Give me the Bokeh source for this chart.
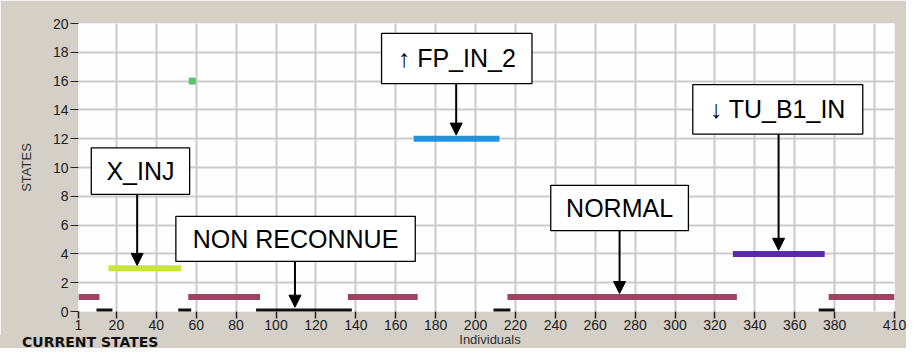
from bokeh.plotting import figure
from bokeh.layouts import column
from bokeh.models import (Range1d, FixedTicker, ColumnDataSource, Arrow, NormalHead, Div)
from bokeh.core.properties import value
from bokeh.embed import file_html
from bokeh.resources import INLINE

# ---- data ----
seg_state = [1, 0, 3, 0, 1, 0, 1, 12, 0, 1, 4, 0, 1]
seg_start = [1, 10, 16, 51, 56, 90, 136, 169, 209, 216, 329, 372, 377]
seg_end = [11.5, 18, 52.5, 57.5, 92, 138, 171, 212, 217.5, 331, 375, 380, 410]
seg_kind = ["normal", "unknown", "x_inj", "unknown", "normal", "unknown", "normal",
            "fp_in_2", "unknown", "normal", "tu_b1_in", "unknown", "normal"]

point_x = [58]
point_y = [16]

ann_text = ["X_INJ", "NON RECONNUE", "\u2191 FP_IN_2", "NORMAL", "\u2193 TU_B1_IN"]
ann_left = [7.4, 49.8, 152.9, 237.7, 308.9]
ann_right = [56.7, 169.8, 228.3, 306.7, 394.1]
ann_bottom = [8.14, 3.48, 15.83, 5.62, 12.32]
ann_top = [11.36, 6.61, 19.31, 8.76, 15.76]
arrow_x = [30.4, 109.5, 190.3, 272.2, 351.9]
arrow_tip = [3.2, 0.3, 12.25, 1.25, 4.25]

x_ticks = [1, 20, 40, 60, 80, 100, 120, 140, 160, 180, 200, 220, 240, 260, 280,
           300, 320, 340, 360, 380, 410]
x_grid = [20, 40, 60, 80, 100, 120, 140, 160, 180, 200, 220, 240, 260, 280, 300,
          320, 340, 360, 380, 400]
y_ticks = [0, 2, 4, 6, 8, 10, 12, 14, 16, 18, 20]

x_title = "Individuals"
y_title = "STATES"
panel_title = "CURRENT STATES"

colors = {"normal": "#9C4463", "unknown": "#101010", "x_inj": "#C8E63A",
          "fp_in_2": "#2593D9", "tu_b1_in": "#5B2AA8"}

PANEL = "#D4D0C8"
W = 906

p = figure(width=W, height=335, output_backend="svg", toolbar_location=None,
           x_range=Range1d(1, 410), y_range=Range1d(0, 20),
           min_border_left=78, min_border_right=12, min_border_top=23, min_border_bottom=24,
           background_fill_color="#FEFEFE", border_fill_color=PANEL)
p.outline_line_color = None

# grids
p.xgrid.ticker = FixedTicker(ticks=x_grid)
p.ygrid.ticker = FixedTicker(ticks=y_ticks[1:-1])
for g in (p.xgrid, p.ygrid):
    g.grid_line_color = "#CBCBCB"
    g.grid_line_width = 2

# axes
p.xaxis.ticker = FixedTicker(ticks=x_ticks)
p.yaxis.ticker = FixedTicker(ticks=y_ticks)
for ax in (p.xaxis, p.yaxis):
    ax.axis_line_color = None
    ax.major_tick_line_color = "#222222"
    ax.major_tick_in = 0
    ax.minor_tick_line_color = None
    ax.major_label_text_font = "Liberation Sans"
    ax.major_label_text_font_size = "14px"
    ax.major_label_text_color = "#202020"
    ax.axis_label_text_font = "Liberation Sans"
    ax.axis_label_text_font_size = "13px"
    ax.axis_label_text_font_style = "normal"
    ax.axis_label_text_color = "#303030"
p.xaxis.major_tick_out = 7
p.xaxis.major_tick_line_width = 1.5
p.xaxis.major_label_standoff = 1
p.yaxis.major_tick_out = 8
p.yaxis.major_tick_line_width = 1
p.yaxis.major_label_standoff = 2
p.yaxis.axis_label = y_title
p.yaxis.axis_label_standoff = 16

# state segments
seg_src = ColumnDataSource(dict(x0=seg_start, x1=seg_end, y=seg_state,
                                c=[colors[k] for k in seg_kind]))
p.segment(x0="x0", y0="y", x1="x1", y1="y", line_color="c", line_width=6,
          line_cap="butt", source=seg_src)

# isolated point
p.scatter(point_x, point_y, marker="square", size=6, color="#58C46C")

# annotation boxes
ann_src = ColumnDataSource(dict(
    left=ann_left, right=ann_right, bottom=ann_bottom, top=ann_top, text=ann_text,
    cx=[(a + b) / 2 for a, b in zip(ann_left, ann_right)],
    cy=[(a + b) / 2 for a, b in zip(ann_bottom, ann_top)],
    ax=arrow_x, tip=arrow_tip))
p.quad(left="left", right="right", bottom="bottom", top="top", source=ann_src,
       fill_color="white", line_color="black", line_width=1.3)
p.text(x="cx", y="cy", text="text", source=ann_src, text_align="center",
       text_baseline="middle", text_font=value("Liberation Sans"),
       text_font_size="25px", text_color="black")
p.add_layout(Arrow(end=NormalHead(size=12, fill_color="black", line_color="black"),
                   x_start="ax", y_start="bottom", x_end="ax", y_end="tip",
                   line_width=2, line_color="black", source=ann_src))

# bottom strip with the x title and the panel caption
html = (
    '<div style="position:relative;width:%dpx;height:13px;">'
    '<span style="position:absolute;left:22px;top:-3px;font-family:\'DejaVu Sans\';'
    'font-weight:bold;font-size:14px;color:#111111;white-space:nowrap;">%s</span>'
    '<span style="position:absolute;left:490px;top:-4px;transform:translateX(-50%%);'
    'font-family:\'Liberation Sans\';font-size:13px;color:#303030;white-space:nowrap;">%s</span>'
    '</div>' % (W, panel_title, x_title)
)
strip = Div(text=html, width=W, height=13, margin=0,
            styles={"background-color": PANEL, "overflow": "visible"})

layout = column(p, strip, spacing=0)
open("out.html", "w").write(file_html(layout, INLINE))
